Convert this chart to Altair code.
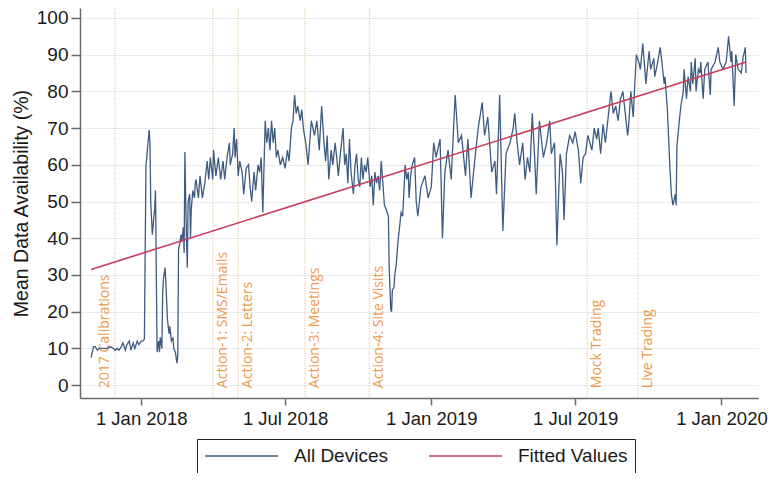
import datetime as dt
import altair as alt
import pandas as pd

# ---- data ----
base_date = dt.date(2017, 10, 30)

day_offset = [
    0, 3, 5, 8, 10, 13, 16, 20, 24, 28,
    30, 33, 35, 38, 40, 43, 45, 48, 50, 53,
    55, 58, 60, 63, 65, 67, 69, 70, 73, 74,
    75, 77, 79, 80, 81, 82, 83, 85, 86, 87,
    89, 90, 91, 93, 94, 96, 98, 99, 101, 103,
    104, 106, 108, 109, 110, 112, 113, 114, 116, 117,
    118, 119, 120, 121, 122, 124, 125, 126, 128, 130,
    131, 132, 135, 137, 140, 143, 146, 148, 150, 153,
    154, 157, 160, 163, 166, 168, 171, 174, 175, 178,
    180, 181, 183, 185, 187, 190, 192, 195, 198, 200,
    202, 205, 207, 210, 212, 214, 216, 219, 221, 223,
    225, 227, 229, 231, 233, 235, 238, 241, 244, 247,
    249, 252, 254, 256, 258, 260, 263, 265, 267, 270,
    273, 277, 281, 284, 287, 290, 293, 295, 297, 299,
    302, 304, 307, 309, 311, 314, 317, 319, 321, 323,
    325, 327, 330, 332, 334, 336, 338, 340, 342, 344,
    346, 348, 351, 353, 355, 357, 359, 361, 363, 365,
    367, 369, 371, 374, 375, 377, 378, 379, 381, 382,
    384, 386, 388, 390, 392, 394, 395, 397, 399, 400,
    402, 404, 407, 409, 411, 415, 420, 424, 428, 431,
    434, 439, 442, 445, 449, 453, 458, 462, 466, 471,
    474, 478, 483, 487, 492, 495, 499, 504, 508, 510,
    514, 518, 522, 527, 531, 533, 536, 539, 543, 546,
    549, 552, 555, 558, 560, 564, 569, 573, 577, 579,
    583, 586, 590, 593, 595, 598, 602, 606, 609, 613,
    616, 619, 622, 625, 630, 633, 636, 638, 641, 644,
    647, 650, 654, 657, 660, 663, 666, 669, 672, 675,
    676, 679, 682, 684, 686, 689, 691, 694, 697, 698,
    702, 704, 708, 709, 712, 716, 718, 721, 722, 725,
    728, 730, 732, 735, 736, 737, 740, 742, 745, 746,
    749, 751, 754, 755, 757, 760, 761, 764, 766, 767,
    770, 772, 776, 779, 780, 785, 789, 791, 795, 799,
    802, 805, 806, 809, 811, 814, 818, 820, 823, 824,
]

availability = [
    7.5, 10.5, 10.5, 9.5, 10, 10, 10, 10, 10.5, 10,
    9.5, 10, 9.5, 10.5, 11.5, 9.5, 11, 12, 9.5, 11.5,
    10, 12, 11, 12, 12, 12.5, 60, 62, 69.5, 66,
    50, 41, 46, 48, 53, 30, 9, 12, 9, 13,
    10, 25, 29, 32, 28, 18, 14, 16, 12, 13,
    10, 9, 6, 8, 37, 39, 41, 39, 43, 36,
    63.5, 50, 40, 32, 50, 52, 40, 48, 53, 51,
    55, 56, 51, 57, 51, 55, 61, 56, 62, 56,
    64, 57, 62, 56, 61, 56, 62, 66, 60, 63,
    70, 62, 67, 57, 61, 58, 52, 59, 60, 54,
    50, 58, 53, 60, 58, 62, 47, 72, 66, 70,
    64, 72, 66, 70, 62, 64, 60, 62, 59, 64,
    61, 70, 72, 79, 74, 76, 72, 75, 70, 66,
    60, 72, 68, 72, 64, 76, 66, 61, 68, 56,
    64, 60, 66, 62, 57, 64, 70, 60, 63, 55,
    67, 58, 52, 60, 63, 56, 54, 62, 56, 60,
    58, 62, 54, 57, 49, 58, 55, 57, 53, 61,
    55, 49, 48, 46, 32, 20.5, 20, 26, 26.5, 30,
    33, 39, 43, 47, 46, 55, 60, 56, 58, 51,
    57, 60, 62, 50, 46, 54, 57, 51, 54, 66,
    62, 67, 40, 58, 64, 56, 79, 66, 68, 57,
    67, 51, 62, 70, 77, 68, 73, 58, 61, 52,
    79, 42, 63, 66, 70, 74, 66, 60, 66, 56,
    62, 58, 74, 62, 52, 72, 62, 66, 72, 63,
    66, 38, 63, 58, 45, 63, 68, 66, 69, 64,
    55, 62, 63, 68, 64, 70, 67, 70, 63, 71,
    66, 72, 80, 74, 76, 72, 78, 80, 74, 68,
    70, 80, 73, 82, 90, 88, 86, 93, 85, 82,
    91, 86, 89, 84, 87, 92, 88, 82, 84, 75,
    60, 52, 49, 52, 49, 65, 72, 76, 80, 86,
    78, 84, 80, 88, 82, 89, 80, 86, 85, 88,
    78, 86, 88, 79, 86, 88, 92, 88, 86, 88,
    95, 88, 91, 76, 90, 86, 85, 89, 92, 85,
]

fit_dates = ["2017-10-30", "2020-02-01"]
fit_values = [31.5, 88.0]

event_dates = ["2017-11-29", "2018-04-01", "2018-05-03", "2018-07-26",
               "2018-10-15", "2019-07-16", "2019-09-18"]
event_labels = ["2017 Calibrations", "Action-1: SMS/Emails", "Action-2: Letters",
                "Action-3: Meetings", "Action-4: Site Visits", "Mock Trading",
                "Live Trading"]

series_names = ["All Devices", "Fitted Values"]
series_colors = ["#3E5B82", "#C93C5C"]

x_ticks = [(2018, 1), (2018, 7), (2019, 1), (2019, 7), (2020, 1)]
y_ticks = [0, 10, 20, 30, 40, 50, 60, 70, 80, 90, 100]

# ---- tables ----
df_line = pd.DataFrame({
    "date": [(base_date + dt.timedelta(days=d)).strftime("%Y-%m-%d") for d in day_offset],
    "value": availability,
    "series": series_names[0],
})
df_fit = pd.DataFrame({"date": fit_dates, "value": fit_values, "series": series_names[1]})
df_events = pd.DataFrame({"date": event_dates, "label": event_labels})

FONT = "Liberation Sans"

x_scale = alt.Scale(
    type="utc",
    domain=[alt.DateTime(year=2017, month=10, date=16, utc=True),
            alt.DateTime(year=2020, month=2, date=16, utc=True)],
    nice=False,
)
y_scale = alt.Scale(domain=[-3.5, 102.7], nice=False, zero=False)

x_axis = alt.Axis(
    title=None,
    values=[alt.DateTime(year=y, month=m, date=1, utc=True) for y, m in x_ticks],
    format="%-d %b %Y",
    grid=False, tickSize=7, labelPadding=4, labelFontSize=18.5, labelFont=FONT,
    labelColor="#1a1a1a", domainColor="#6b6b6b", tickColor="#6b6b6b",
    domainWidth=1.5, tickWidth=1.5, labelFlush=False, labelOverlap=False,
)
y_axis = alt.Axis(
    title="Mean Data Availability (%)", values=y_ticks,
    grid=True, gridColor="#E6ECEF", gridWidth=1,
    tickSize=9, labelPadding=3, labelFontSize=19, labelFont=FONT,
    labelColor="#1a1a1a", titleFont=FONT, titleFontSize=19.5, titleFontWeight="normal",
    titleColor="#1a1a1a", titlePadding=5, domainColor="#6b6b6b", tickColor="#6b6b6b",
    domainWidth=1.5, tickWidth=1.5, labelOverlap=False,
)

color_scale = alt.Scale(domain=series_names, range=series_colors)
legend = alt.Legend(
    title=None, orient="none", legendX=117, legendY=431, direction="horizontal",
    symbolType="stroke", symbolSize=5329, symbolStrokeWidth=1.5, clipHeight=20,
    labelFontSize=19, labelFont=FONT, labelColor="#1a1a1a", labelOffset=15,
    columnPadding=40, padding=7, strokeColor="#222222", fillColor="white",
    cornerRadius=0,
)

x_enc = alt.X("date:T", scale=x_scale, axis=x_axis)
y_label_enc = alt.YDatum(datum=0, scale=y_scale, axis=y_axis, type="quantitative")

rules = alt.Chart(df_events).mark_rule(
    color="#E5C296", strokeDash=[1, 1.5], strokeWidth=1.2
).encode(x=x_enc)

label_style = dict(angle=270, align="left", baseline="middle", font="Open Sans",
                   fontSize=14, color="#EE9A48", dx=-3)
labels_left = alt.Chart(df_events).transform_filter(
    alt.datum.label == event_labels[0]
).mark_text(dy=-10, **label_style).encode(
    x=x_enc, y=y_label_enc, text="label:N",
)
labels_right = alt.Chart(df_events).transform_filter(
    alt.datum.label != event_labels[0]
).mark_text(dy=10, **label_style).encode(
    x=x_enc, y=y_label_enc, text="label:N",
)

line = alt.Chart(df_line).mark_line(strokeWidth=1.3).encode(
    x=x_enc,
    y=alt.Y("value:Q", scale=y_scale, axis=y_axis),
    color=alt.Color("series:N", scale=color_scale, legend=legend),
)
fit = alt.Chart(df_fit).mark_line(strokeWidth=1.6).encode(
    x=x_enc,
    y=alt.Y("value:Q", scale=y_scale, axis=y_axis),
    color=alt.Color("series:N", scale=color_scale, legend=legend),
)

chart = alt.layer(rules, labels_left, labels_right, line, fit).properties(
    width=678, height=390,
    autosize=alt.AutoSizeParams(type="none"),
    padding={"left": 72, "top": 0, "right": 10, "bottom": 75},
    background="white",
).configure_view(stroke=None)

chart.save("out.html", embed_options={"renderer": "svg", "actions": False})
